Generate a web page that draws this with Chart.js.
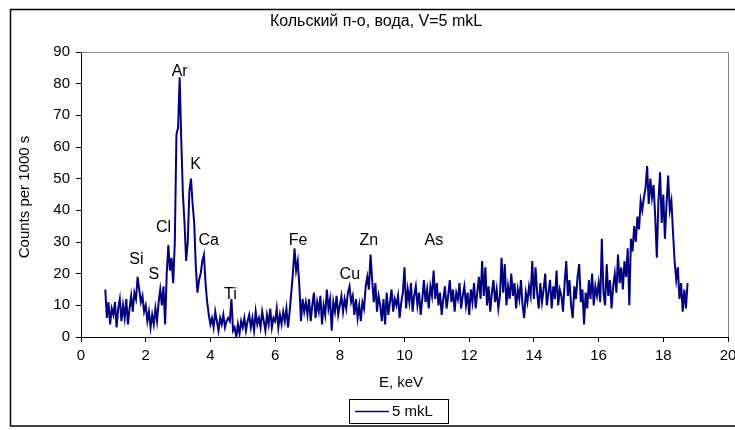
<!DOCTYPE html>
<html><head><meta charset="utf-8">
<script src="https://cdn.jsdelivr.net/npm/chart.js@4/dist/chart.umd.min.js"></script>
<style>html,body{margin:0;padding:0;background:#fff}#wrap{width:735px;height:430px;position:relative}</style>
</head><body><div id="wrap"><canvas id="c" width="735" height="430"></canvas></div>
<script>
const chartTitle = 'Кольский п-о, вода, V=5 mkL';
const xTitle = 'E, keV';
const yTitle = 'Counts per 1000 s';
const seriesName = '5 mkL';

// spectrum channels: energy of first channel and channel width (keV)
const energyStart = 0.75;
const energyStep = 0.05;

// counts per channel (one row per keV)
const counts = [
  15, 6, 11, 4, 9,
  7, 11, 3, 9, 12, 5, 10, 6, 12, 4, 9, 13, 8, 14, 12, 19, 15, 11, 13, 8,
  10, 5, 8, 3, 7, 4, 9, 5, 11, 15, 10, 16, 4, 20, 29, 21, 25, 17, 30, 64,
  66, 82, 62, 45, 36, 24, 30, 46, 50, 42, 36, 22, 14, 18, 20, 24, 26, 17, 11, 7,
  4, 6, 3, 8, 5, 2, 6, 4, 7, 3, 5, 6, 5, 12, 2, 3, 0, 4, 1, 5,
  3, 6, 2, 5, 7, 3, 6, 2, 8, 4, 6, 3, 8, 5, 2, 7, 4, 9, 3, 6,
  5, 9, 3, 7, 4, 8, 5, 9, 3, 8, 14, 20, 28, 21, 24, 16, 5, 12, 8, 11,
  7, 12, 5, 10, 14, 6, 11, 8, 13, 4, 10, 7, 15, 9, 12, 2, 11, 8, 13, 7,
  10, 13, 8, 12, 9, 14, 16, 11, 13, 7, 12, 6, 10, 5, 11, 9, 16, 19, 15, 26,
  18, 11, 17, 8, 13, 10, 5, 12, 4, 14, 7, 11, 15, 8, 12, 10, 13, 6, 11, 14,
  22, 9, 15, 11, 17, 8, 13, 16, 10, 14, 7, 12, 18, 11, 15, 9, 16, 13, 21, 12,
  17, 10, 14, 7, 12, 16, 9, 13, 18, 11, 15, 8, 14, 12, 17, 9, 13, 16, 10, 14,
  7, 15, 11, 17, 9, 14, 19, 12, 24, 13, 22, 10, 16, 8, 14, 18, 11, 15, 9, 13,
  25, 14, 23, 10, 16, 12, 20, 13, 17, 9, 15, 12, 18, 10, 6, 14, 11, 16, 13, 24,
  12, 22, 14, 9, 17, 11, 15, 20, 10, 14, 18, 9, 16, 12, 21, 10, 15, 13, 8, 17,
  24, 13, 18, 10, 6, 16, 12, 19, 23, 11, 15, 4, 14, 9, 18, 12, 20, 10, 16, 13,
  17, 11, 31, 14, 10, 23, 13, 18, 9, 16, 20, 14, 26, 17, 22, 15, 24, 19, 28, 10,
  31, 27, 35, 30, 38, 34, 43, 40, 44, 47, 54, 42, 50, 44, 48, 38, 25, 43, 52, 36,
  45, 31, 42, 51, 40, 43, 33, 24, 18, 22, 12, 17, 8, 15, 9, 17
];

// element labels and where they sit (keV, counts)
const peakNames = ['Si', 'S', 'Cl', 'Ar', 'K', 'Ca', 'Ti', 'Fe', 'Cu', 'Zn', 'As'];
const peakE     = [1.71, 2.25, 2.55, 3.05, 3.54, 3.95, 4.62, 6.71, 8.31, 8.90, 10.91];
const peakY     = [24.6, 19.6, 34.7, 83.8, 54.3, 30.3, 13.5, 30.4, 19.6, 30.4, 30.4];

const xTicks = [0, 2, 4, 6, 8, 10, 12, 14, 16, 18, 20];
const yTicks = [0, 10, 20, 30, 40, 50, 60, 70, 80, 90];

const FONT = "'Liberation Sans', Arial, sans-serif";
const LINE_COLOR = '#000080';

const points = counts.map((c, i) => ({ x: energyStart + i * energyStep, y: c }));

const decor = {
  id: 'decor',
  afterDraw(chart) {
    const ctx = chart.ctx;
    const a = chart.chartArea;
    const xs = chart.scales.x, ys = chart.scales.y;
    ctx.save();
    // outer chart frame
    ctx.strokeStyle = '#000';
    ctx.lineWidth = 1.5;
    ctx.strokeRect(10.5, 9.5, 740, 416.5);
    // plot area border (top/right gray)
    ctx.strokeStyle = '#808080';
    ctx.lineWidth = 1;
    ctx.beginPath();
    ctx.moveTo(a.left, a.top + 0.5);
    ctx.lineTo(a.right + 0.5, a.top + 0.5);
    ctx.lineTo(a.right + 0.5, a.bottom);
    ctx.stroke();

    ctx.fillStyle = '#000';
    ctx.textAlign = 'center';
    ctx.textBaseline = 'middle';
    // title
    ctx.font = '16px ' + FONT;
    ctx.fillText(chartTitle, 376, 22);
    // axis titles
    ctx.font = '15px ' + FONT;
    ctx.fillText(xTitle, 401, 383);
    ctx.save();
    ctx.translate(25, 197);
    ctx.rotate(-Math.PI / 2);
    ctx.fillText(yTitle, 0, 0);
    ctx.restore();

    // peak labels placed via scales
    ctx.font = '16px ' + FONT;
    peakNames.forEach((n, i) => {
      ctx.fillText(n, xs.getPixelForValue(peakE[i]), ys.getPixelForValue(peakY[i]));
    });

    // legend
    ctx.strokeStyle = '#000';
    ctx.lineWidth = 1;
    ctx.strokeRect(349.5, 399.5, 99, 24);
    ctx.strokeStyle = LINE_COLOR;
    ctx.lineWidth = 1.5;
    ctx.beginPath();
    ctx.moveTo(355, 411.5);
    ctx.lineTo(389, 411.5);
    ctx.stroke();
    ctx.textAlign = 'left';
    ctx.font = '15px ' + FONT;
    ctx.fillText(seriesName, 392, 412);
    ctx.restore();
  }
};

new Chart(document.getElementById('c'), {
  type: 'scatter',
  data: {
    datasets: [{
      label: seriesName,
      data: points,
      showLine: true,
      borderColor: LINE_COLOR,
      backgroundColor: LINE_COLOR,
      borderWidth: 2,
      pointRadius: 0,
      tension: 0
    }]
  },
  options: {
    responsive: false,
    animation: false,
    devicePixelRatio: 1,
    layout: { padding: { left: 0, top: 52, right: 7, bottom: 0 } },
    plugins: { legend: { display: false }, tooltip: { enabled: false }, title: { display: false } },
    scales: {
      x: {
        type: 'linear', min: 0, max: 20,
        afterBuildTicks: s => { s.ticks = xTicks.map(v => ({ value: v })); },
        afterFit: s => { s.height = 93; s.paddingLeft = 0; s.paddingRight = 0; },
        grid: { drawOnChartArea: false, tickLength: 5, color: '#000' },
        border: { color: '#000', width: 1 },
        ticks: { color: '#000', font: { family: FONT, size: 15 }, padding: 5, maxRotation: 0, autoSkip: false }
      },
      y: {
        type: 'linear', min: 0, max: 90,
        afterBuildTicks: s => { s.ticks = yTicks.map(v => ({ value: v })); },
        afterFit: s => { s.width = 81; s.paddingTop = 0; s.paddingBottom = 0; },
        grid: { drawOnChartArea: false, tickLength: 5, color: '#000' },
        border: { color: '#000', width: 1 },
        ticks: { color: '#000', font: { family: FONT, size: 15 }, padding: 6, autoSkip: false }
      }
    }
  },
  plugins: [decor]
});
</script></body></html>
